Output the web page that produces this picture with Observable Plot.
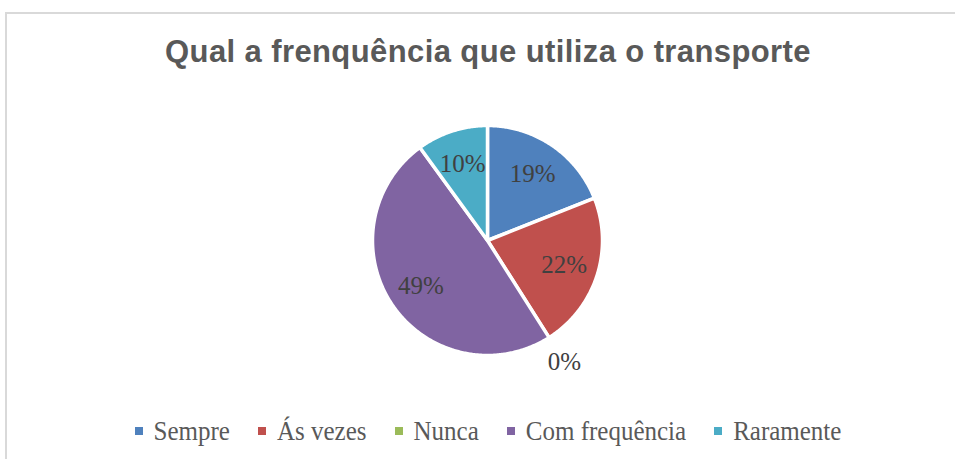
<!DOCTYPE html>
<html><head><meta charset="utf-8">
<script src="https://cdn.jsdelivr.net/npm/d3@7"></script>
<script src="https://cdn.jsdelivr.net/npm/@observablehq/plot@0.6"></script>
<style>
html,body{margin:0;padding:0;background:#fff;}
body{width:955px;height:459px;overflow:hidden;position:relative;}
#frame{position:absolute;left:5px;top:12px;width:1000px;height:500px;border-left:2px solid #d9d9d9;border-top:2px solid #d9d9d9;box-sizing:border-box;}
#title{position:absolute;left:0;top:35px;width:976px;text-align:center;font-family:"Liberation Sans",Arial,sans-serif;font-weight:bold;font-size:31px;line-height:34px;letter-spacing:0.4px;color:#595959;white-space:nowrap;}
#chart{position:absolute;left:0;top:100px;width:955px;height:280px;}
#chart svg{display:block;}
#legend{position:absolute;left:0;top:417px;width:976px;display:flex;justify-content:center;align-items:center;font-family:"Liberation Serif",serif;font-size:25px;line-height:28px;color:#595959;white-space:nowrap;}
#legend .item{display:flex;align-items:center;margin:0 14px;}
#legend .item span{display:inline-block;transform:scaleY(1.08);}
#legend .sw{width:8px;height:8px;margin-right:11px;}
</style></head>
<body>
<div id="frame"></div>
<div id="title"></div>
<div id="chart"></div>
<div id="legend"></div>
<script>
const titleText = "Qual a frenquência que utiliza o transporte";
const categories = ["Sempre", "Ás vezes", "Nunca", "Com frequência", "Raramente"];
const percentages = [19, 22, 0, 49, 10];
const colors = ["#4F81BD", "#C0504D", "#9BBB59", "#8064A2", "#4BACC6"];

document.getElementById("title").textContent = titleText;

const arcs = d3.pie().sort(null).value(d => d.value)(
  categories.map((name, i) => ({name, value: percentages[i]}))
);
const slices = arcs.map(p => ({name: p.data.name, value: p.data.value, a0: p.startAngle, a1: p.endAngle}));

// slice outlines in unit-circle coordinates (derived from the data angles)
const outline = slices.filter(s => s.value > 0).flatMap(s => {
  const n = Math.max(2, Math.ceil((s.a1 - s.a0) / 0.01));
  const pts = [{name: s.name, x: 0, y: 0}];
  for (let k = 0; k <= n; k++) {
    const a = s.a0 + (s.a1 - s.a0) * k / n;
    pts.push({name: s.name, x: Math.sin(a), y: Math.cos(a)});
  }
  pts.push({name: s.name, x: 0, y: 0});
  return pts;
});

const labels = slices.map(s => {
  const inside = s.value > 0;
  const a = inside ? (s.a0 + s.a1) / 2 : s.a0;
  const r = inside ? 0.7 : 1.25;
  return {label: s.value + "%", x: r * Math.sin(a), y: r * Math.cos(a)};
});

const W = 955, H = 280, R = 115, cx = 487, cy = 140;
const chart = Plot.plot({
  width: W, height: H, margin: 0,
  x: {domain: [-cx / R, (W - cx) / R], axis: null},
  y: {domain: [-(H - cy) / R, cy / R], axis: null},
  color: {domain: categories, range: colors},
  marks: [
    Plot.line(outline, {x: "x", y: "y", z: "name", fill: "name", stroke: "white", strokeWidth: 3.5, curve: "linear"}),
    Plot.text(labels, {x: "x", y: "y", text: "label", fontSize: 25, fontFamily: "Liberation Serif", fill: "#404040"})
  ]
});
document.getElementById("chart").appendChild(chart);

const legend = d3.select("#legend");
categories.forEach((name, i) => {
  const it = legend.append("div").attr("class", "item");
  it.append("div").attr("class", "sw").style("background", colors[i]);
  it.append("span").text(name);
});
</script>
</body></html>
